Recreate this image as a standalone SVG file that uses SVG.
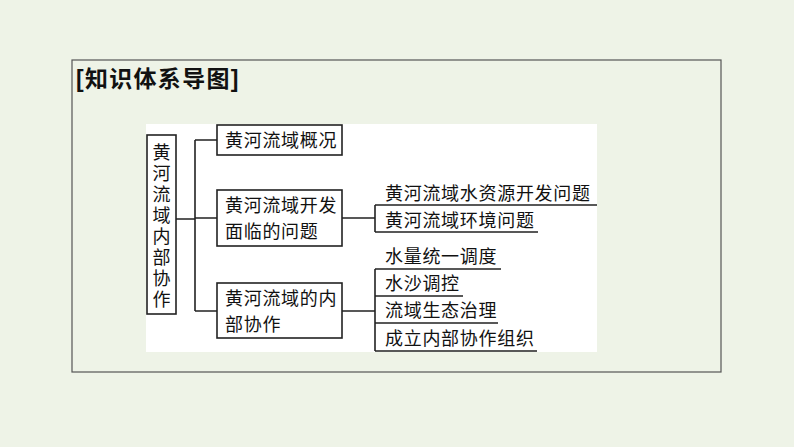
<svg xmlns="http://www.w3.org/2000/svg" width="794" height="447" viewBox="0 0 794 447">
<style>
.t{font-family:"Liberation Serif","Noto Sans CJK SC",serif;font-size:18px;fill:#111;letter-spacing:0.7px}
.box{fill:#fff;stroke:#222;stroke-width:1.6}
.ln{stroke:#222;stroke-width:1.6;fill:none}
</style>
<rect x="0" y="0" width="794" height="447" fill="#eef3e7"/>
<rect x="72" y="60" width="649" height="312" fill="none" stroke="#555" stroke-width="1.2"/>
<text x="76" y="87" font-family="Liberation Sans,'Noto Sans CJK SC',sans-serif" font-size="23" font-weight="bold" fill="#111" letter-spacing="1.3">[知识体系导图]</text>
<rect x="146" y="124" width="451" height="228" fill="#fff"/>
<g id="connectors">
<path class="ln" d="M176 219H195M195 140V311M195 140H217M195 218H217M195 311H217"/>
<path class="ln" d="M342 218H375M375 205V232M375 205H597M375 232H538"/>
<path class="ln" d="M342 311H375M375 269V351M375 269H501M375 296H463M375 323H498M375 351H537"/>
</g>
<g id="root">
<rect class="box" x="147" y="135" width="29" height="179"/>
<text class="t" x="161.5" text-anchor="middle" style="letter-spacing:0"><tspan y="159">黄</tspan><tspan x="161.5" y="180">河</tspan><tspan x="161.5" y="201">流</tspan><tspan x="161.5" y="222">域</tspan><tspan x="161.5" y="243">内</tspan><tspan x="161.5" y="264">部</tspan><tspan x="161.5" y="285">协</tspan><tspan x="161.5" y="306">作</tspan></text>
</g>
<g id="n1">
<rect class="box" x="217" y="125" width="125" height="30"/>
<text class="t" x="225" y="147">黄河流域概况</text>
</g>
<g id="n2">
<rect class="box" x="217" y="190" width="125" height="56"/>
<text class="t" x="225" y="212">黄河流域开发</text>
<text class="t" x="225" y="238">面临的问题</text>
</g>
<g id="n3">
<rect class="box" x="217" y="283" width="125" height="55"/>
<text class="t" x="225" y="305">黄河流域的内</text>
<text class="t" x="225" y="331">部协作</text>
</g>
<g id="l1"><text class="t" x="385" y="200">黄河流域水资源开发问题</text></g>
<g id="l2"><text class="t" x="385" y="227">黄河流域环境问题</text></g>
<g id="l3"><text class="t" x="385" y="263">水量统一调度</text></g>
<g id="l4"><text class="t" x="385" y="290">水沙调控</text></g>
<g id="l5"><text class="t" x="385" y="317">流域生态治理</text></g>
<g id="l6"><text class="t" x="385" y="345">成立内部协作组织</text></g>
</svg>
